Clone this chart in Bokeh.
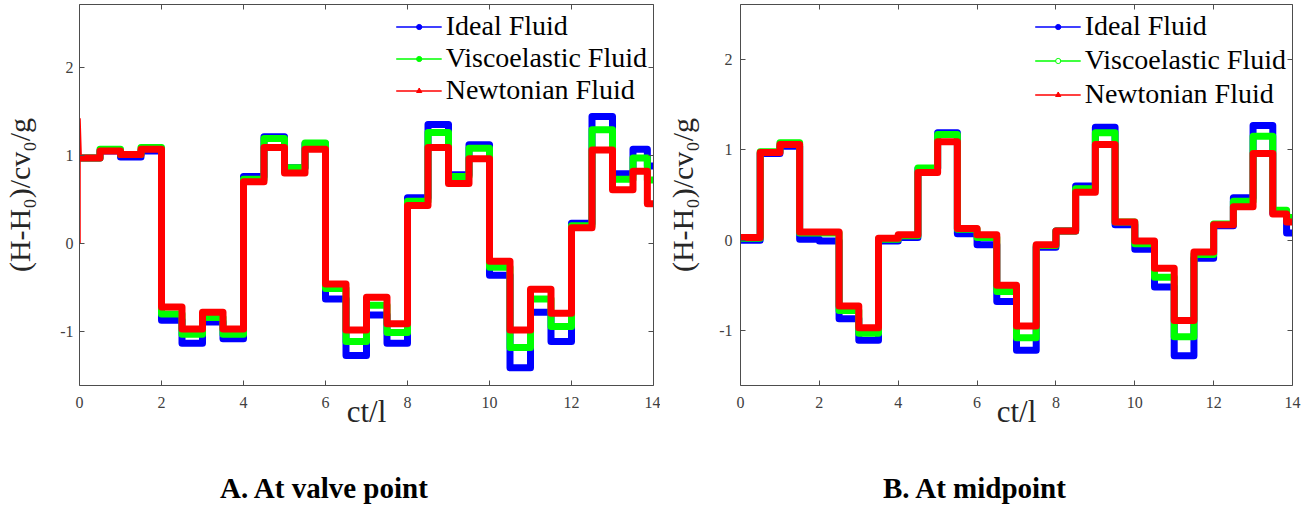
import math
from bokeh.plotting import figure
from bokeh.models import (Range1d, FixedTicker, LinearAxis, Legend, LegendItem,
                          ColumnDataSource, Div)
from bokeh.layouts import row, column
from bokeh.embed import file_html
from bokeh.resources import INLINE

# ---------------- data ----------------
# start of each half-unit plateau of ct/l
seg_start = [0.0, 0.5, 1.0, 1.5, 2.0, 2.5, 3.0, 3.5, 4.0, 4.5, 5.0, 5.5, 6.0, 6.5,
             7.0, 7.5, 8.0, 8.5, 9.0, 9.5, 10.0, 10.5, 11.0, 11.5, 12.0, 12.5, 13.0, 13.5]
tail_x = [13.85, 14.0]

# A. At valve point
valve_ideal = [0.97, 1.05, 0.98, 1.05, -0.87, -1.13, -0.89, -1.08,
               0.76, 1.21, 0.86, 1.13, -0.63, -1.27, -0.81, -1.13,
               0.52, 1.35, 0.78, 1.12, -0.36, -1.41, -0.78, -1.11,
               0.23, 1.44, 0.79, 1.07]
valve_visco = [0.97, 1.07, 1.01, 1.09, -0.80, -1.03, -0.84, -1.03,
               0.73, 1.19, 0.86, 1.14, -0.51, -1.11, -0.70, -1.01,
               0.48, 1.26, 0.76, 1.08, -0.27, -1.18, -0.63, -0.94,
               0.20, 1.29, 0.73, 0.97]
valve_newton = [0.97, 1.05, 1.01, 1.07, -0.72, -0.97, -0.78, -0.97,
                0.70, 1.09, 0.80, 1.07, -0.46, -0.98, -0.61, -0.91,
                0.43, 1.09, 0.68, 0.96, -0.20, -0.98, -0.52, -0.79,
                0.18, 1.06, 0.61, 0.82]
valve_tail = {"ideal": 0.88, "visco": 0.72, "newton": 0.45}
# initial transient at the valve (ct/l = 0)
valve_start_x = [0.0, 0.0, 0.03]
valve_start_y = [0.0, 1.42, 0.97]

# B. At midpoint
mid_ideal = [0.00, 0.96, 1.04, 0.01, -0.01, -0.87, -1.11, -0.01,
             0.03, 0.79, 1.19, 0.07, -0.05, -0.68, -1.22, -0.08,
             0.10, 0.60, 1.25, 0.17, -0.10, -0.52, -1.28, -0.20,
             0.16, 0.47, 1.27, 0.30]
mid_visco = [0.02, 0.98, 1.08, 0.08, 0.08, -0.78, -1.03, 0.01,
             0.05, 0.80, 1.17, 0.12, 0.03, -0.57, -1.08, -0.06,
             0.10, 0.57, 1.19, 0.20, -0.04, -0.41, -1.07, -0.16,
             0.18, 0.43, 1.15, 0.33]
mid_newton = [0.03, 0.97, 1.06, 0.09, 0.09, -0.73, -0.97, 0.02,
              0.06, 0.75, 1.09, 0.13, 0.06, -0.50, -0.95, -0.05,
              0.10, 0.53, 1.06, 0.20, -0.01, -0.31, -0.89, -0.13,
              0.17, 0.37, 0.96, 0.29]
mid_tail = {"ideal": 0.08, "visco": 0.25, "newton": 0.20}

x_ticks = [0, 2, 4, 6, 8, 10, 12, 14]
y_ticks = [-1, 0, 1, 2]
series_names = ["Ideal Fluid", "Viscoelastic Fluid", "Newtonian Fluid"]
series_colors = ["#0000ff", "#00ff00", "#ff0000"]
captions = ["A. At valve point", "B. At midpoint"]

SERIF = "Liberation Serif"
AXC = "#4d4d4d"
LBC = "#404040"


def style_axis(ax, ticks, labels=True, standoff=6):
    ax.ticker = FixedTicker(ticks=ticks)
    ax.major_tick_in = 5
    ax.major_tick_out = 0
    ax.minor_tick_in = 0
    ax.minor_tick_out = 0
    ax.axis_line_color = AXC
    ax.major_tick_line_color = AXC
    ax.major_label_text_font = SERIF
    ax.major_label_overrides = {-1: "-1"}
    ax.major_label_text_font_size = "16px"
    if labels:
        ax.major_label_text_color = LBC
        ax.major_label_standoff = standoff
    else:
        ax.major_label_text_color = None
        ax.major_label_standoff = 0


def panel(width, border_left, border_right, xr, yr, data, tail, markers,
          spacing, ylab_standoff, ytick_standoff, start=None):
    p = figure(width=width, height=460, x_range=Range1d(*xr),
               y_range=Range1d(*yr), output_backend="svg", toolbar_location=None,
               min_border_left=border_left, min_border_right=border_right,
               min_border_top=4, min_border_bottom=75)
    p.grid.visible = False
    p.outline_line_color = None
    p.background_fill_color = "white"
    p.border_fill_color = "white"

    xb = p.below[0]
    yl = p.left[0]
    style_axis(xb, x_ticks, standoff=11)
    style_axis(yl, y_ticks, standoff=ytick_standoff)
    top = LinearAxis()
    right = LinearAxis()
    style_axis(top, x_ticks, labels=False)
    style_axis(right, y_ticks, labels=False)
    p.add_layout(top, "above")
    p.add_layout(right, "right")

    xb.axis_label = "ct/l"
    xb.axis_label_text_font = SERIF
    xb.axis_label_text_font_size = "31px"
    xb.axis_label_text_font_style = "normal"
    xb.axis_label_text_color = "#262626"
    xb.axis_label_standoff = -17

    yl.axis_label = "(H-H\u2080)/cv\u2080/g"
    yl.axis_label_text_font = SERIF
    yl.axis_label_text_font_size = "30px"
    yl.axis_label_text_font_style = "normal"
    yl.axis_label_text_color = "#262626"
    yl.axis_label_standoff = ylab_standoff

    keys = ["ideal", "visco", "newton"]
    for key, vals, col in zip(keys, data, series_colors):
        src = ColumnDataSource(dict(x=seg_start + tail_x,
                                    y=vals + [tail[key], tail[key]]))
        p.step("x", "y", source=src, mode="after", line_color=col,
               line_width=7, line_join="round")
    if start is not None:
        p.line(start[0], start[1], line_color="#ff0000", line_width=2.5)

    items = []
    for name, col, (mk, fill, ang) in zip(series_names, series_colors, markers):
        dummy = ColumnDataSource(dict(x=[float("nan")], y=[float("nan")]))
        lr = p.line("x", "y", source=dummy, line_color=col, line_width=1.5)
        sr = p.scatter("x", "y", source=dummy, marker=mk, size=5, line_color=col,
                       fill_color=fill, angle=ang)
        items.append(LegendItem(label=name, renderers=[lr, sr]))
    leg = Legend(items=items, location="top_right", margin=6, padding=4,
                 spacing=spacing, glyph_width=46, glyph_height=13,
                 label_standoff=4, label_text_font=SERIF,
                 label_text_font_size="28px", label_text_color="#000000",
                 background_fill_alpha=0, border_line_color=None)
    p.add_layout(leg)
    return p


def caption_div(text, width):
    return Div(text=text, width=width, height=46, margin=0,
               styles={"font-family": SERIF, "font-size": "29px",
                       "font-weight": "bold", "color": "#000000",
                       "line-height": "34px", "padding-top": "11px",
                       "padding-left": "220px", "box-sizing": "border-box",
                       "white-space": "nowrap"})


p1 = panel(660, 77, 7, (0, 14), (-1.61, 2.71),
           [valve_ideal, valve_visco, valve_newton], valve_tail,
           [("circle", "#0000ff", 0), ("circle", "#00ff00", 0),
            ("triangle", "#ff0000", -math.pi / 2)],
           -2, 21, 6, start=(valve_start_x, valve_start_y))
p2 = panel(641, 80, 9, (0, 14), (-1.61, 2.61),
           [mid_ideal, mid_visco, mid_newton], mid_tail,
           [("circle", "#0000ff", 0), ("circle", "white", 0),
            ("triangle", "#ff0000", 0)],
           2, 17, 8)

c1 = caption_div(captions[0], 660)
c2 = caption_div(captions[1], 641)
c2.styles = dict(c2.styles, **{"padding-left": "223px"})

layout = column(row(p1, p2), row(c1, c2))
open("out.html", "w").write(file_html(layout, INLINE))
